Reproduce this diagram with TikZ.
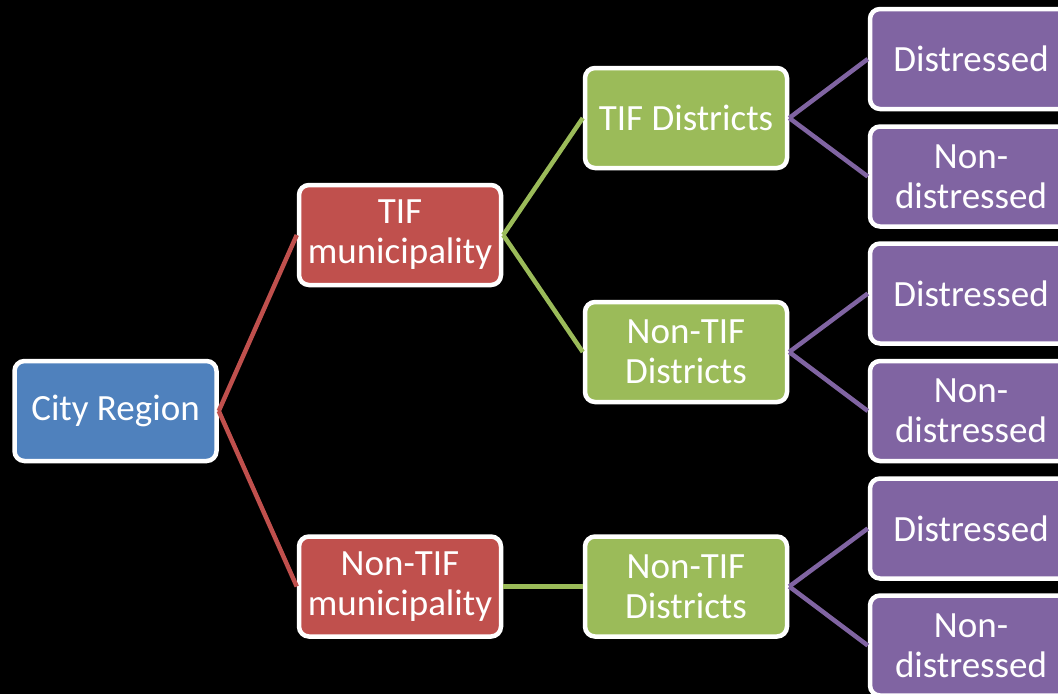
\documentclass[tikz,border=0pt]{standalone}
\usepackage{fontspec}
\setmainfont{Carlito}
\begin{document}
\begin{tikzpicture}[x=1pt,y=-1pt,
  box/.style={draw=white, line width=4.5pt, rounded corners=10pt, minimum width=202pt, minimum height=100pt,
    align=center, text=white, inner sep=0pt, font=\fontsize{37}{40}\selectfont},
  bluebox/.style={box, fill=cblue},
  redbox/.style={box, fill=cred},
  greenbox/.style={box, fill=cgreen},
  purplebox/.style={box, fill=cpurple},
  link/.style={line width=4.5pt}]
\definecolor{cblue}{HTML}{4F81BD}
\definecolor{cred}{HTML}{C0504D}
\definecolor{cgreen}{HTML}{9BBB59}
\definecolor{cpurple}{HTML}{8064A2}
\fill[black] (0,0) rectangle (1058,694);
\useasboundingbox (0,0) rectangle (1058,694);

\node[bluebox] (city) at (115.5,411) {City Region};
\node[redbox] (tifm) at (400,235) {TIF\\municipality};
\node[redbox] (ntifm) at (400,586.5) {Non-TIF\\municipality};
\node[greenbox] (tifd) at (686,118) {TIF Districts};
\node[greenbox] (ntifd1) at (686,352) {Non-TIF\\Districts};
\node[greenbox] (ntifd2) at (686,586.5) {Non-TIF\\Districts};
\node[purplebox] (p1) at (971,59) {Distressed};
\node[purplebox] (p2) at (971,176.5) {Non-\\distressed};
\node[purplebox] (p3) at (971,293.5) {Distressed};
\node[purplebox] (p4) at (971,411) {Non-\\distressed};
\node[purplebox] (p5) at (971,528.5) {Distressed};
\node[purplebox] (p6) at (971,645.5) {Non-\\distressed};

\draw[link, cred] (city.east) -- (tifm.west);
\draw[link, cred] (city.east) -- (ntifm.west);
\draw[link, cgreen] (tifm.east) -- (tifd.west);
\draw[link, cgreen] (tifm.east) -- (ntifd1.west);
\draw[link, cgreen] (ntifm.east) -- (ntifd2.west);
\draw[link, cpurple] (tifd.east) -- (p1.west);
\draw[link, cpurple] (tifd.east) -- (p2.west);
\draw[link, cpurple] (ntifd1.east) -- (p3.west);
\draw[link, cpurple] (ntifd1.east) -- (p4.west);
\draw[link, cpurple] (ntifd2.east) -- (p5.west);
\draw[link, cpurple] (ntifd2.east) -- (p6.west);
\end{tikzpicture}
\end{document}
